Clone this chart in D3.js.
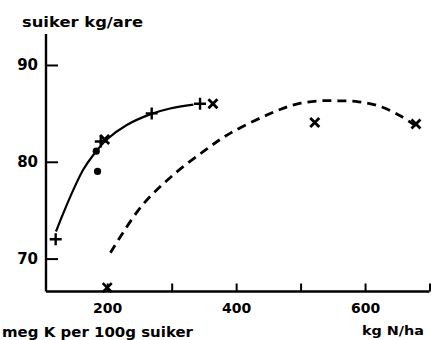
<!DOCTYPE html>
<html>
<head>
<meta charset="utf-8">
<script src="https://cdn.jsdelivr.net/npm/d3@7"></script>
<style>
  html, body { margin: 0; padding: 0; background: #fff; }
  svg { display: block; }
  text { font-family: "DejaVu Sans", sans-serif; font-weight: bold; fill: #000; }
</style>
</head>
<body>
<script>
// ---- data ----
const plusN = [120, 190, 269, 344];
const plusY = [72.0, 82.1, 85.0, 86.0];
const crossN = [196, 364, 200, 522, 679];
const crossY = [82.3, 86.0, 67.0, 84.05, 83.9];
const dotN = [183, 185];
const dotY = [81.1, 79.0];
const solidN = [120.5, 131.9, 147.4, 162.9, 178.4, 199.3, 230.3, 266.5, 297.5, 333.7];
const solidY = [72.8, 74.7, 77.1, 79.2, 80.7, 82.3, 83.8, 84.9, 85.5, 85.9];
const dashN = [205, 253, 300, 352, 391, 468, 500, 531, 559, 590, 624, 656, 681];
const dashY = [70.6, 75.4, 78.5, 81.2, 82.96, 85.4, 86.05, 86.3, 86.3, 86.2, 85.7, 84.7, 83.6];
const xTicks = [200, 300, 400, 500, 600, 700];
const xTickLabels = ["200", "", "400", "", "600", ""];
const yTicks = [70, 80, 90];
const yTickLabels = ["70", "80", "90"];
const yTitle = "suiker kg/are";
const xTitle = "kg N/ha";
const bottomNote = "meg K per 100g suiker";

// ---- layout ----
const W = 431, H = 340;
const x = d3.scaleLinear().domain([105, 700]).range([46, 429.5]);
const y = d3.scaleLinear().domain([66.6, 93.2]).range([291.5, 34]);

const svg = d3.select("body").append("svg").attr("width", W).attr("height", H);

// axes
const xAxis = d3.axisBottom(x).tickValues(xTicks).tickSize(-8).tickPadding(12)
  .tickFormat((d, i) => xTickLabels[i]);
const gx = svg.append("g").attr("transform", `translate(0,${y(66.6)})`).call(xAxis);
gx.select(".domain").attr("stroke", "#000").attr("stroke-width", 2.4)
  .attr("d", `M${x(105)},0H${x(700)}`);
gx.selectAll(".tick line").attr("stroke", "#000").attr("stroke-width", 2);
gx.selectAll(".tick text").attr("font-size", 14).attr("font-family", "DejaVu Sans")
  .attr("font-weight", "bold").attr("fill", "#000");

const yAxis = d3.axisLeft(y).tickValues(yTicks).tickSize(-12).tickPadding(8)
  .tickFormat((d, i) => yTickLabels[i]);
const gy = svg.append("g").attr("transform", `translate(${x(105)},0)`).call(yAxis);
gy.select(".domain").attr("stroke", "#000").attr("stroke-width", 2.4)
  .attr("d", `M0,${y(66.6)}V${y(93.2)}`);
gy.selectAll(".tick line").attr("stroke", "#000").attr("stroke-width", 2);
gy.selectAll(".tick text").attr("font-size", 15).attr("font-family", "DejaVu Sans")
  .attr("font-weight", "bold").attr("fill", "#000");

// axis titles
svg.append("text").attr("x", 22).attr("y", 27).attr("font-size", 13.5)
  .attr("textLength", 121).attr("lengthAdjust", "spacingAndGlyphs").text(yTitle);
svg.append("text").attr("x", 362).attr("y", 335).attr("font-size", 13)
  .attr("textLength", 62).attr("lengthAdjust", "spacingAndGlyphs").text(xTitle);
svg.append("text").attr("x", 2).attr("y", 337).attr("font-size", 14)
  .attr("textLength", 191).attr("lengthAdjust", "spacingAndGlyphs").text(bottomNote);

// curves
const line = d3.line().x(d => x(d[0])).y(d => y(d[1])).curve(d3.curveCatmullRom.alpha(0.5));
svg.append("path").datum(solidN.map((n, i) => [n, solidY[i]]))
  .attr("d", line).attr("fill", "none").attr("stroke", "#000").attr("stroke-width", 2.2);
svg.append("path").datum(dashN.map((n, i) => [n, dashY[i]]))
  .attr("d", line).attr("fill", "none").attr("stroke", "#000").attr("stroke-width", 2.8)
  .attr("stroke-dasharray", "9,6");

// markers
const plus = svg.append("g").attr("stroke", "#000").attr("stroke-width", 2.4);
plusN.forEach((n, i) => {
  const cx = x(n), cy = y(plusY[i]), s = 6;
  plus.append("path").attr("d", `M${cx - s},${cy}H${cx + s}M${cx},${cy - s}V${cy + s}`);
});
const cross = svg.append("g").attr("stroke", "#000").attr("stroke-width", 2.8);
crossN.forEach((n, i) => {
  const cx = x(n), cy = y(crossY[i]), s = 4.5;
  cross.append("path").attr("d", `M${cx - s},${cy - s}L${cx + s},${cy + s}M${cx - s},${cy + s}L${cx + s},${cy - s}`);
});
svg.append("g").selectAll("circle").data(dotN).join("circle")
  .attr("cx", d => x(d)).attr("cy", (d, i) => y(dotY[i])).attr("r", 3.6).attr("fill", "#000");
</script>
</body>
</html>
